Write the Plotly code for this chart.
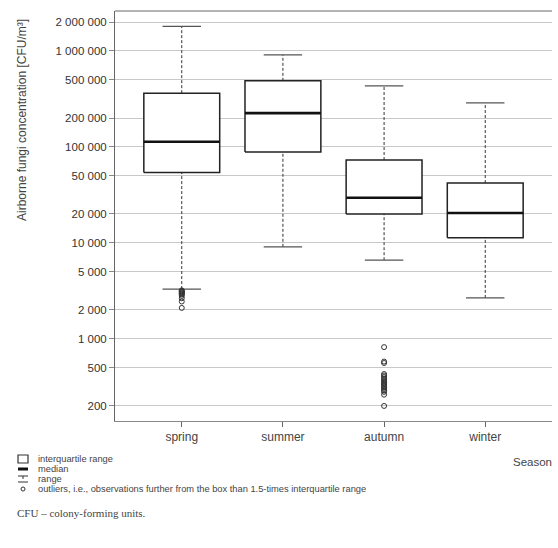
import plotly.graph_objects as go

seasons = ["spring", "summer", "autumn", "winter"]
lower_whisker = [3300, 9100, 6600, 2670]
q1 = [54000, 88700, 20000, 11300]
median = [113000, 225000, 29500, 20500]
q3 = [363000, 488000, 73000, 42000]
upper_whisker = [1800000, 908000, 433000, 287000]
outliers = [
    [3200, 3150, 3100, 3050, 3000, 2950, 2900, 2800, 2650, 2450, 2100],
    [],
    [820, 580, 560, 430, 415, 400, 385, 370, 360, 350, 340, 330, 320, 310, 300, 290, 280, 262, 200],
    [],
]
y_ticks = [200, 500, 1000, 2000, 5000, 10000, 20000, 50000, 100000, 200000, 500000, 1000000, 2000000]
y_ticktext = ["{:,}".format(v).replace(",", " ") for v in y_ticks]

BOX_HALF = 0.375
CAP_HALF = 0.19

fig = go.Figure()
for i, s in enumerate(seasons):
    # whiskers (dotted)
    fig.add_trace(go.Scatter(x=[i, i], y=[q3[i], upper_whisker[i]], mode="lines",
                             line=dict(color="#333", width=1, dash="3px,2px"), showlegend=False, hoverinfo="skip"))
    fig.add_trace(go.Scatter(x=[i, i], y=[lower_whisker[i], q1[i]], mode="lines",
                             line=dict(color="#333", width=1, dash="3px,2px"), showlegend=False, hoverinfo="skip"))
    # caps
    for v in (upper_whisker[i], lower_whisker[i]):
        fig.add_trace(go.Scatter(x=[i - CAP_HALF, i + CAP_HALF], y=[v, v], mode="lines",
                                 line=dict(color="#555", width=1.2), showlegend=False, hoverinfo="skip"))
    # box
    fig.add_trace(go.Scatter(x=[i - BOX_HALF, i + BOX_HALF, i + BOX_HALF, i - BOX_HALF, i - BOX_HALF],
                             y=[q1[i], q1[i], q3[i], q3[i], q1[i]], mode="lines", fill="toself",
                             fillcolor="white", line=dict(color="#222", width=1.5),
                             showlegend=False, hoverinfo="skip"))
    # median
    fig.add_trace(go.Scatter(x=[i - BOX_HALF, i + BOX_HALF], y=[median[i], median[i]], mode="lines",
                             line=dict(color="#111", width=2.6), showlegend=False, hoverinfo="skip"))
    # outliers
    if outliers[i]:
        fig.add_trace(go.Scatter(x=[i] * len(outliers[i]), y=outliers[i], mode="markers",
                                 marker=dict(symbol="circle-open", size=5, color="#333", line=dict(width=1)),
                                 showlegend=False, hoverinfo="skip"))

font_sans = "Liberation Sans, Arial, sans-serif"

fig.update_layout(
    width=558, height=548,
    margin=dict(l=115, r=6, t=11, b=127),
    paper_bgcolor="white", plot_bgcolor="white",
    font=dict(family=font_sans, color="#333", size=11),
    showlegend=False,
    xaxis=dict(range=[-0.66, 3.66], tickvals=[0, 1, 2, 3], ticktext=seasons,
               showgrid=False, zeroline=False, showline=True, linecolor="#888", linewidth=1,
               ticks="outside", ticklen=5, tickcolor="#666", tickfont=dict(size=12, color="#444")),
    yaxis=dict(type="log", range=[2.144, 6.416], tickvals=y_ticks, ticktext=y_ticktext,
               showgrid=True, gridcolor="#c8c8c8", gridwidth=1, zeroline=False,
               showline=True, linecolor="#666", linewidth=1, mirror=False,
               ticks="outside", ticklen=5, tickcolor="#888", tickfont=dict(size=11.5, color="#333")),
)

# top frame line
fig.add_shape(type="line", xref="paper", yref="paper", x0=0, x1=1, y0=1, y1=1,
              line=dict(color="#666", width=1))

ph = 548 - 11 - 127
def py(ypix):
    return (548 - 127 - ypix) / ph
pw = 558 - 115 - 6
def px(xpix):
    return (xpix - 115) / pw

# y-axis title
fig.add_annotation(text="Airborne fungi concentration [CFU/m³]", xref="paper", yref="paper",
                   x=px(22), y=py(120), xanchor="center", yanchor="middle", textangle=-90,
                   showarrow=False, font=dict(size=12, color="#444"))

# Season label
fig.add_annotation(text="Season", xref="paper", yref="paper", x=1.005, y=py(462),
                   xanchor="right", yanchor="middle", showarrow=False,
                   font=dict(size=11.5, color="#444"))

notes = ["interquartile range", "median", "range",
         "outliers, i.e., observations further from the box than 1.5-times interquartile range"]
rows = [459, 469, 479, 489]
for t, r in zip(notes, rows):
    fig.add_annotation(text=t, xref="paper", yref="paper", x=px(36), y=py(r), xanchor="left",
                       yanchor="middle", showarrow=False, font=dict(size=9.3, color="#444"))
# icons
fig.add_shape(type="rect", xref="paper", yref="paper", x0=px(18), x1=px(28), y0=py(463), y1=py(455),
              line=dict(color="#333", width=1.2), fillcolor="white")
fig.add_shape(type="line", xref="paper", yref="paper", x0=px(18), x1=px(28), y0=py(469), y1=py(469),
              line=dict(color="#111", width=3))
fig.add_shape(type="line", xref="paper", yref="paper", x0=px(18), x1=px(28), y0=py(476), y1=py(476),
              line=dict(color="#333", width=1))
fig.add_shape(type="line", xref="paper", yref="paper", x0=px(18), x1=px(28), y0=py(482), y1=py(482),
              line=dict(color="#333", width=1))
fig.add_shape(type="line", xref="paper", yref="paper", x0=px(23), x1=px(23), y0=py(476), y1=py(482),
              line=dict(color="#333", width=1, dash="dot"))
fig.add_shape(type="circle", xref="paper", yref="paper", x0=px(21), x1=px(25), y0=py(491), y1=py(487),
              line=dict(color="#333", width=1))

fig.add_annotation(text="CFU – colony-forming units.", xref="paper", yref="paper", x=px(15), y=py(513),
                   xanchor="left", yanchor="middle", showarrow=False,
                   font=dict(size=11, color="#444", family="Liberation Serif, Times New Roman, serif"))

fig.write_html("out.html")
